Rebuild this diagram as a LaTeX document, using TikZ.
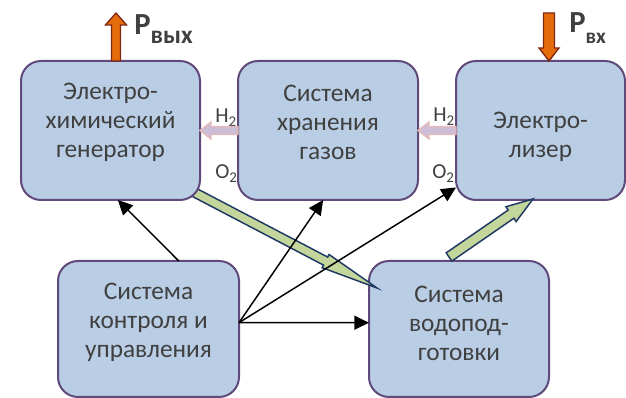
\documentclass[tikz,border=0pt]{standalone}
\usepackage{fontspec}
\setmainfont{Carlito}
\usepackage{xcolor}
\usetikzlibrary{calc, arrows.meta}

\definecolor{boxfill}{RGB}{185,205,229}
\definecolor{boxline}{RGB}{96,74,123}
\definecolor{txtgray}{RGB}{64,64,64}
\definecolor{powfill}{RGB}{228,108,10}
\definecolor{powline}{RGB}{128,40,20}
\definecolor{gasfill}{RGB}{204,190,214}
\definecolor{gasline}{RGB}{232,184,184}
\definecolor{watfill}{RGB}{195,214,155}
\definecolor{watline}{RGB}{31,56,100}

\pgfdeclarelayer{back}
\pgfsetlayers{back,main}

% wide block arrow: style, from, to, half shaft, half head, head length
\newcommand\fatarrow[6]{%
  \coordinate (fa) at ($(#3)!#6!(#2)$);
  \draw [#1] ($(#2)!#4!90:(#3)$) -- ($(fa)!#4!90:(#3)$) -- ($(fa)!#5!90:(#3)$) -- (#3)
    -- ($(fa)!#5!-90:(#3)$) -- ($(fa)!#4!-90:(#3)$) -- ($(#2)!#4!-90:(#3)$) -- cycle ;
}

\tikzset{
  block/.style={draw=boxline, fill=boxfill, line width=1.5pt, rounded corners=15pt, inner sep=0pt, outer sep=0pt, minimum height=104.25pt},
  blocktext/.style={text=txtgray, font=\fontsize{19}{21.75}\selectfont, align=center, inner sep=0pt},
  gaslabel/.style={text=txtgray, font=\fontsize{16}{18}\selectfont, anchor=base west, inner sep=0pt},
  powlabel/.style={text=txtgray, font=\fontsize{23}{26}\selectfont\bfseries, anchor=base west, inner sep=0pt},
  ctrl/.style={line width=1.1pt, -{Triangle[length=11pt, width=10.5pt]}},
  pow/.style={fill=powfill, draw=powline, line width=1pt},
  gas/.style={fill=gasfill, draw=gasline, line width=1pt},
  wat/.style={fill=watfill, draw=watline, line width=1.1pt},
}

\begin{document}
\begin{tikzpicture}[x=0.75pt,y=0.75pt,yscale=-1,xscale=1]
        \useasboundingbox (0,0) rectangle (626,398);

        %Rounded Rect: top row
        \node [block, minimum width=134.25pt] (A) at (110.5,130.5) {};
        \node [block, minimum width=135pt] (B) at (328,130.5) {};
        \node [block, minimum width=126.75pt] (C) at (540.5,130.5) {};

        \begin{pgfonlayer}{back}
        % Text Node: gases (partly under the boxes)
        \node [gaslabel] (h2l) at (215,123) {H\textsubscript{2}};
        \node [gaslabel] (o2l) at (215,179) {O\textsubscript{2}};
        \node [gaslabel] (h2r) at (433,122) {H\textsubscript{2}};
        \node [gaslabel] (o2r) at (432,179) {O\textsubscript{2}};

        %Rounded Rect: bottom row
        \node [block, minimum width=135.75pt, minimum height=102pt] (D) at (148.5,329) {};
        \node [block, minimum width=135pt, minimum height=102pt] (E) at (459,329) {};

        %Block Arrow: generator -> water
        \coordinate (w1s) at ($(A.south east)+(-14,-12)$);
        \coordinate (w1e) at ($(E.north west)+(8,27)$);
        \fatarrow{wat}{w1s}{w1e}{3.4pt}{5.6pt}{43.5pt}
        \end{pgfonlayer}

        % Text Node
        \node [blocktext] (At) at (110.5,122) {Электро-\\химический\\генератор};
        \node [blocktext] (Bt) at (328,122) {Система\\хранения\\газов};
        \node [blocktext] (Ct) at (540.5,137) {Электро-\\лизер};
        \node [blocktext] (Dt) at (148.5,322) {Система\\контроля и\\управления};
        \node [blocktext] (Et) at (459,323) {Система\\водопод-\\готовки};

        %Block Arrow: water -> electrolyser
        \coordinate (w2s) at ($(E.north)+(-10,-4)$);
        \coordinate (w2e) at ($(C.south)+(-7.5,-1)$);
        \fatarrow{wat}{w2s}{w2e}{3.75pt}{6.75pt}{20pt}

        %Block Arrow: H2
        \fatarrow{gas}{B.west}{A.east}{3pt}{6.4pt}{8.25pt}
        \fatarrow{gas}{C.west}{B.east}{3pt}{6.4pt}{8.25pt}

        %Block Arrow: power
        \coordinate (poutend) at (116,13);
        \coordinate (poutbase) at (A.north -| poutend);
        \fatarrow{pow}{poutbase}{poutend}{3.4pt}{7.9pt}{9pt}
        \coordinate (pinstart) at (549,13);
        \coordinate (pintip) at (C.north -| pinstart);
        \fatarrow{pow}{pinstart}{pintip}{4.1pt}{7.5pt}{9.75pt}

        % Text Node
        \node [powlabel] (Pout) at (134,35) {P\raisebox{-6.75pt}{\fontsize{19}{19}\selectfont вых}};
        \node [powlabel] (Pin) at (569,33) {P\raisebox{-8.25pt}{\fontsize{16}{16}\selectfont вх}};

        %Straight Lines: control
        \draw [ctrl] (D.66) -- (A.-84);
        \draw [ctrl] (D.4) -- (B.-94);
        \draw [ctrl] (D.4) -- (C.214);
        \draw [ctrl] (D.4) -- (E.176);

\end{tikzpicture}
\end{document}
